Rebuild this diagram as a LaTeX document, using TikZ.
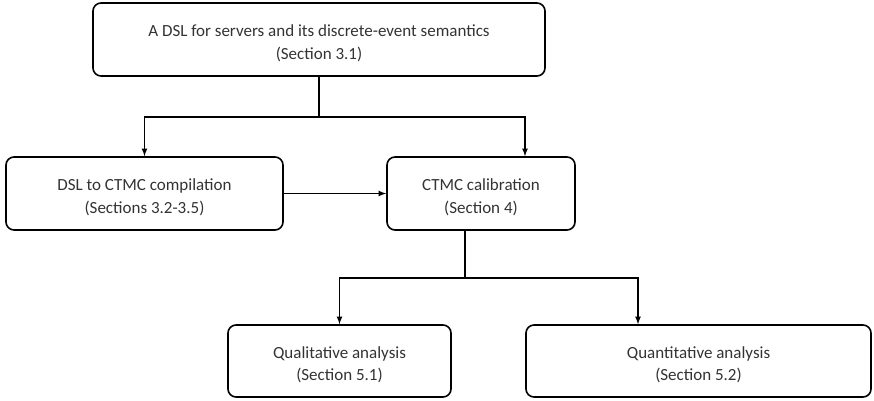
\documentclass[tikz,border=0pt]{standalone}
\usepackage{fontspec}
\setmainfont{Carlito}
\usepackage{tikz}

\tikzset{
  stage/.style={draw, rounded corners=8pt, line width=1.6pt},
  stagetext/.style={align=center, text=black!80, yshift=-4pt,
    font=\fontsize{17}{22.5}\selectfont},
  link/.style={line width=1.6pt}
}

\begin{document}
\begin{tikzpicture}[x=1pt,y=-1pt]
            \useasboundingbox (0,0) rectangle (874,400);
            % boxes
            \node[stage, minimum width=452pt, minimum height=73pt] (dsl) at (319,39.5) {};
            \node[stage, minimum width=277pt, minimum height=73pt] (comp) at (144.5,193.5) {};
            \node[stage, minimum width=188pt, minimum height=73pt] (calib) at (481,193.5) {};
            \node[stage, minimum width=223pt, minimum height=72pt] (qual) at (339.5,361) {};
            \node[stage, minimum width=345pt, minimum height=72pt] (quant) at (698.5,361) {};
            % texts
            \node[stagetext] at (dsl) {A DSL for servers and its discrete-event semantics\\(Section 3.1)};
            \node[stagetext] at (comp) {DSL to CTMC compilation\\(Sections 3.2-3.5)};
            \node[stagetext] at (calib) {CTMC calibration\\(Section 4)};
            \node[stagetext] at (qual) {Qualitative analysis\\(Section 5.1)};
            \node[stagetext] at (quant) {Quantitative analysis\\(Section 5.2)};
            % connectors
            \coordinate (fork1) at (319,117);
            \coordinate (fork2) at (465,278);
            \draw[link] (dsl.south) -- (fork1);
            \draw[link,-latex] (fork1) -| (comp.north);
            \draw[link,-latex] (fork1) -| ([xshift=44pt]calib.north);
            \draw[link,-latex] (comp.east) -- (calib.west);
            \draw[link] ([xshift=-16pt]calib.south) -- (fork2);
            \draw[link,-latex] (fork2) -| (qual.north);
            \draw[link,-latex] (fork2) -| ([xshift=-60.5pt]quant.north);
        \end{tikzpicture}
\end{document}
